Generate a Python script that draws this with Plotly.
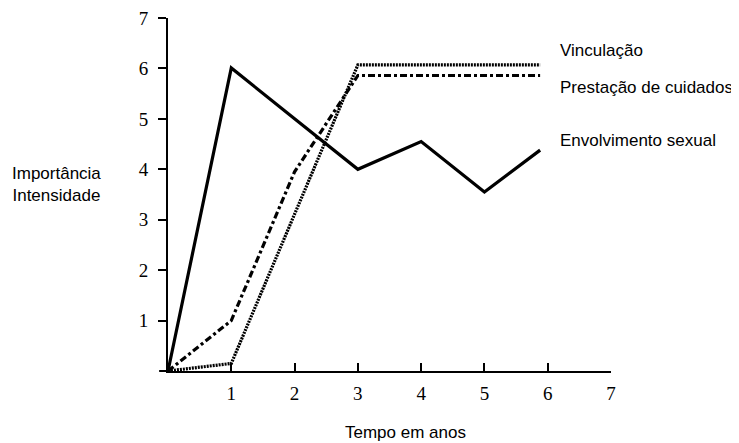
import plotly.graph_objects as go

# Data
sexual_x = [0, 1, 2, 3, 4, 5, 5.88]
sexual_y = [0, 6.01, 5.0, 4.0, 4.55, 3.55, 4.38]

cuidados_x = [0, 1, 2, 3, 5.88]
cuidados_y = [0, 1.0, 3.95, 5.86, 5.86]

vinculacao_x = [0, 1, 3, 5.88]
vinculacao_y = [0, 0.15, 6.07, 6.07]

tick_vals = [1, 2, 3, 4, 5, 6, 7]
tick_text = ["1", "2", "3", "4", "5", "6", "7"]

series_labels = ["Vinculação", "Prestação de cuidados", "Envolvimento sexual"]
label_y = [6.36, 5.62, 4.58]

fig = go.Figure()
fig.add_trace(go.Scatter(x=sexual_x, y=sexual_y, mode="lines",
                         line=dict(color="black", width=3.2),
                         cliponaxis=False, showlegend=False))
fig.add_trace(go.Scatter(x=cuidados_x, y=cuidados_y, mode="lines",
                         line=dict(color="black", width=3.2, dash="7px,3px,3px,3px"),
                         cliponaxis=False, showlegend=False))
fig.add_trace(go.Scatter(x=vinculacao_x, y=vinculacao_y, mode="lines",
                         line=dict(color="black", width=3.2, dash="2px,1px"),
                         cliponaxis=False, showlegend=False))

for txt, yv in zip(series_labels, label_y):
    fig.add_annotation(x=6.17, y=yv, xref="x", yref="y", text=txt, showarrow=False,
                       xanchor="left", yanchor="middle",
                       font=dict(family="Liberation Sans", size=17, color="black"))

fig.add_annotation(x=-0.2528, y=0.528, xref="paper", yref="paper",
                   text="Importância<br>Intensidade",
                   showarrow=False, xanchor="center", yanchor="middle", align="center",
                   font=dict(family="Liberation Sans", size=17, color="black"))
fig.add_annotation(x=0.535, y=-0.173, xref="paper", yref="paper", text="Tempo em anos",
                   showarrow=False, xanchor="center", yanchor="middle",
                   font=dict(family="Liberation Sans", size=17, color="black"))

# x-axis line extends slightly left of the y-axis
fig.add_shape(type="line", xref="paper", yref="paper", x0=-0.02, x1=0, y0=0, y1=0,
              line=dict(color="black", width=2))

fig.update_layout(
    width=731, height=435,
    margin=dict(l=160, r=128, t=10, b=72, autoexpand=False),
    plot_bgcolor="white", paper_bgcolor="white",
    xaxis=dict(range=[0, 7], tickvals=tick_vals, ticktext=tick_text, automargin=False,
               showgrid=False, zeroline=False, showline=True, linecolor="black", linewidth=2,
               ticks="inside", ticklen=8, tickwidth=2, tickcolor="black",
               ticklabelstandoff=4, ticklabeloverflow="allow",
               tickfont=dict(family="Liberation Serif", size=19, color="black")),
    yaxis=dict(range=[0, 7], tickvals=tick_vals, ticktext=tick_text, automargin=False,
               showgrid=False, zeroline=False, showline=True, linecolor="black", linewidth=2,
               ticks="outside", ticklen=8, tickwidth=2, tickcolor="black",
               ticklabelstandoff=6, ticklabeloverflow="allow",
               tickfont=dict(family="Liberation Serif", size=19, color="black")),
)

fig.write_html("out.html")
